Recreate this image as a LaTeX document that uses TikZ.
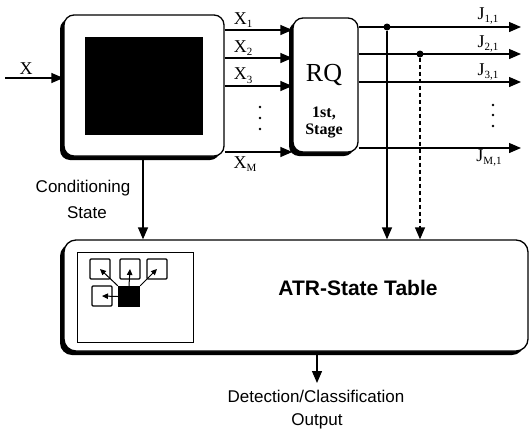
\documentclass[tikz,border=0pt]{standalone}
\usepackage{fontspec}
\setmainfont{Liberation Serif}
\setsansfont{Liberation Sans}
\usetikzlibrary{arrows.meta}
\newcommand{\lsub}[1]{\raisebox{-0.45ex}{\fontsize{11}{12}\selectfont #1}}
\begin{document}
\begin{tikzpicture}[x=1pt,y=-1pt,
  arr/.style={-{Triangle[length=12pt,width=10pt]}, line width=1.3pt},
  sarr/.style={-{Triangle[length=6pt,width=5.5pt]}, line width=1pt},
  sbox/.style={draw, line width=1.3pt, fill=white, rounded corners=10pt},
  shad/.style={fill=black, rounded corners=10pt},
  icon/.style={draw, line width=1.4pt, minimum width=20pt, minimum height=20pt, inner sep=0pt, rounded corners=1pt},
  jdot/.style={circle, fill=black, minimum size=7pt, inner sep=0pt},
  vdot/.style={circle, fill=black, minimum size=2.8pt, inner sep=0pt},
  serlab/.style={font=\fontsize{18}{20}\selectfont, inner sep=0pt},
  sanlab/.style={font=\sffamily\fontsize{17}{19}\selectfont, inner sep=0pt}]
\useasboundingbox (0,0) rectangle (529,434);

% shadows
\fill[shad] (60,19) rectangle (220,160);
\fill[shad] (289,22) rectangle (354,156);
\fill[shad, rounded corners=12pt] (60,244) rectangle (524,355);

% boxes
\node[sbox, minimum width=160pt, minimum height=141pt] (pre) at (144,85.5) {};
\node[fill=black, minimum width=118pt, minimum height=98pt, inner sep=0pt] (blk) at (144,86) {};
\node[sbox, minimum width=65pt, minimum height=134pt] (rq) at (325.5,85) {};
\node[sbox, rounded corners=12pt, minimum width=464pt, minimum height=111pt] (atr) at (296,295.5) {};
\node[draw, line width=1pt, minimum width=116pt, minimum height=90pt, inner sep=0pt] (win) at (135,297) {};

% texts in boxes
\node[font=\fontsize{26}{28}\selectfont, inner sep=0pt] (rqt) at (324,75) {RQ};
\node[font=\bfseries\fontsize{16}{18}\selectfont, inner sep=0pt] (st1) at (324,113) {1st,};
\node[font=\bfseries\fontsize{16}{18}\selectfont, inner sep=0pt] (st2) at (324,131) {Stage};
\node[font=\sffamily\bfseries\fontsize{21}{24}\selectfont, inner sep=0pt] (atrt) at (358,288) {ATR-State Table};

% icons
\node[icon] (ib1) at (100,269) {};
\node[icon] (ib2) at (130,269) {};
\node[icon] (ib3) at (157,269) {};
\node[icon] (ib4) at (102,296) {};
\node[fill=black, minimum width=22pt, minimum height=21pt, inner sep=0pt] (sq) at (129,296.5) {};
\draw[sarr] (sq.north west) -- (ib1.center);
\draw[sarr] (sq.north) -- (ib2.center);
\draw[sarr] (sq.north east) -- (ib3.center);
\draw[sarr] (sq.west) -- (ib4.center);

% input
\coordinate (xin) at (5,78);
\draw[arr] (xin) -- (pre.west |- xin);
\node[serlab] (xl) at (26,69) {X};

% X outputs
\coordinate (r1) at (0,30);
\coordinate (r2) at (0,58);
\coordinate (r3) at (0,86);
\coordinate (rm) at (0,152);
\foreach \r in {r1,r2,r3,rm}{
  \draw[arr] (pre.east |- \r) -- (rq.west |- \r);
}
\node[serlab] (x1) at (243,20) {X\lsub{1}};
\node[serlab] (x2) at (243,48) {X\lsub{2}};
\node[serlab] (x3) at (243,76) {X\lsub{3}};
\node[serlab] (xm) at (245,164) {X\lsub{M}};
\node[vdot] (xd1) at (260,107) {};
\node[vdot] (xd2) at (260,118) {};
\node[vdot] (xd3) at (260,129) {};

% J outputs
\coordinate (je1) at (521,27);
\coordinate (je2) at (521,54);
\coordinate (je3) at (521,82);
\coordinate (jem) at (521,148);
\foreach \r in {je1,je2,je3,jem}{
  \draw[arr] (rq.east |- \r) -- (\r);
}
\node[serlab] (j1) at (488,16) {J\lsub{1,1}};
\node[serlab] (j2) at (488,44) {J\lsub{2,1}};
\node[serlab] (j3) at (488,72) {J\lsub{3,1}};
\node[serlab] (jm) at (489,158) {J\lsub{M,1}};
\node[vdot] (jd1) at (493,105) {};
\node[vdot] (jd2) at (493,115) {};
\node[vdot] (jd3) at (493,126) {};

% taps
\node[jdot] (t1) at (387,27) {};
\node[jdot] (t2) at (420,54) {};
\draw[arr] (t1) -- (t1 |- atr.north);
\draw[arr, dash pattern=on 4pt off 3pt] (t2) -- (t2 |- atr.north);

% conditioning state
\coordinate (cs) at (143,0);
\draw[arr] (pre.south -| cs) -- (atr.north -| cs);
\node[sanlab] (cl1) at (83,188) {Conditioning};
\node[sanlab] (cl2) at (87,213) {State};

% output
\coordinate (oc) at (317,383);
\draw[arr] (atr.south -| oc) -- (oc);
\node[sanlab] (ol1) at (316,396) {Detection/Classification};
\node[sanlab] (ol2) at (317,421) {Output};
\end{tikzpicture}
\end{document}
